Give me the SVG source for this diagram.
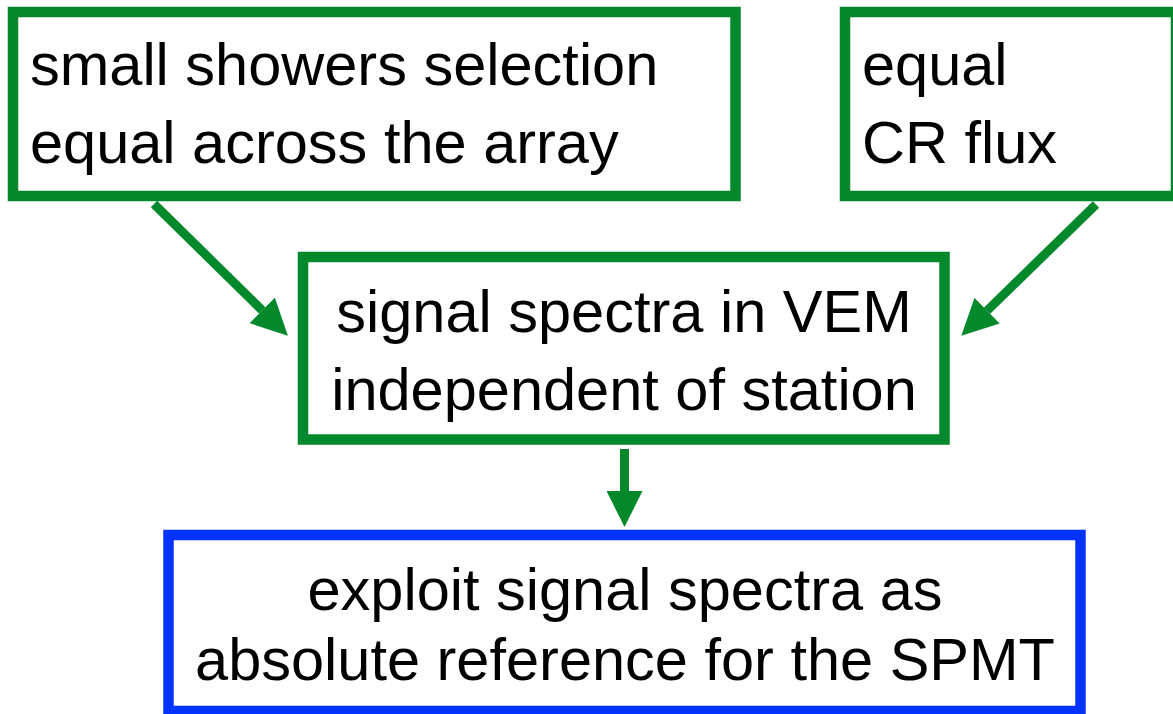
<svg xmlns="http://www.w3.org/2000/svg" width="1173" height="714" viewBox="0 0 1173 714">
  <style>
    .box { fill: #ffffff; stroke-width: 10.5; }
    .green { stroke: #03882c; }
    .blue { stroke: #0433ff; }
    .label { font-family: "Liberation Sans", Arial, sans-serif; font-size: 59.5px; fill: #000000; }
    .mid { text-anchor: middle; }
    .link { stroke: #03882c; stroke-width: 9; fill: none; marker-end: url(#head); }
  </style>
  <defs>
    <marker id="head" markerUnits="userSpaceOnUse" markerWidth="36" markerHeight="36" viewBox="0 0 35 35" refX="0" refY="17.5" orient="auto">
      <path d="M0,0 L35,17.5 L0,35 Z" fill="#03882c"/>
    </marker>
  </defs>
  <rect width="1173" height="714" fill="#ffffff"/>

  <g id="connectors">
    <line class="link" x1="154" y1="204" x2="262.2" y2="310.4"/>
    <line class="link" x1="1096" y1="204.5" x2="987.1" y2="310.6"/>
    <line class="link" x1="624.5" y1="449" x2="624.5" y2="491"/>
  </g>

  <g id="node-selection">
    <rect class="box green" x="13" y="12" width="722.5" height="184"/>
    <text class="label" x="30" y="85">small showers selection</text>
    <text class="label" x="30" y="163">equal across the array</text>
  </g>

  <g id="node-flux">
    <rect class="box green" x="845" y="12" width="331" height="184"/>
    <text class="label" x="862" y="85">equal</text>
    <text class="label" x="862" y="163">CR flux</text>
  </g>

  <g id="node-spectra">
    <rect class="box green" x="303" y="257" width="641.5" height="182.5"/>
    <text class="label mid" x="624" y="332">signal spectra in VEM</text>
    <text class="label mid" x="624" y="410">independent of station</text>
  </g>

  <g id="node-reference">
    <rect class="box blue" x="168.5" y="535" width="912" height="176"/>
    <text class="label mid" x="625" y="610">exploit signal spectra as</text>
    <text class="label mid" x="625" y="680">absolute reference for the SPMT</text>
  </g>
</svg>
